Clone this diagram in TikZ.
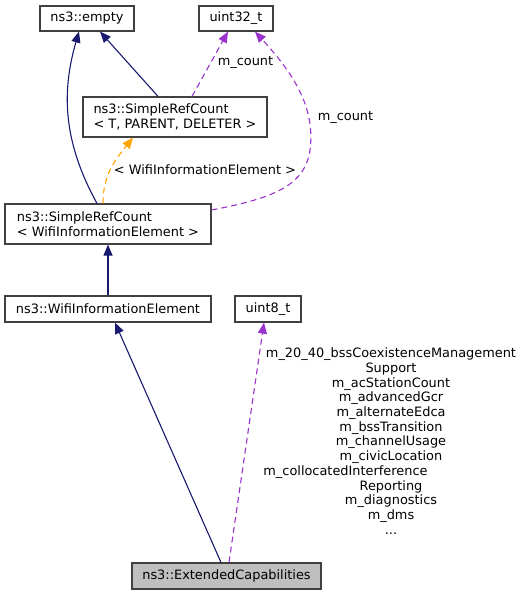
\documentclass[tikz,border=0pt]{standalone}
\usepackage{fontspec}
\setmainfont{DejaVu Sans}
\usetikzlibrary{arrows.meta}
\definecolor{navyedge}{HTML}{191970}
\definecolor{purpleedge}{HTML}{9A32CD}
\definecolor{orangeedge}{HTML}{FFA500}
\definecolor{boxline}{HTML}{404040}
\definecolor{boxgray}{HTML}{BFBFBF}
\begin{document}
\begin{tikzpicture}[x=1pt,y=1pt,
  font=\fontsize{12.9}{14.7}\selectfont,
  cls/.style={draw=boxline,line width=1.2pt,fill=white,inner sep=0pt,align=left},
  inh/.style={draw=navyedge,line width=1.1pt,-{Triangle[length=11pt,width=9pt]}},
  usage/.style={draw=purpleedge,line width=1.1pt,dash pattern=on 6pt off 4pt,-{Triangle[length=11pt,width=9pt,fill=purpleedge]}},
  tmpl/.style={draw=orangeedge,line width=1.1pt,dash pattern=on 6pt off 4pt,-{Triangle[length=11pt,width=9pt,fill=orangeedge]}},
  lbl/.style={inner sep=0pt,align=center}]
\useasboundingbox (0,0) rectangle (528,-595);
% nodes
\node[cls,minimum width=94pt,minimum height=25pt] (empty) at (87,-18.5) {ns3::empty};
\node[cls,minimum width=74pt,minimum height=25pt] (u32) at (236,-18.5) {uint32\_t};
\node[cls,minimum width=184pt,minimum height=40pt] (srcT) at (175,-117) {ns3::SimpleRefCount\\\textless{} T, PARENT, DELETER \textgreater};
\node[cls,minimum width=206pt,minimum height=40pt] (srcW) at (108,-224) {ns3::SimpleRefCount\\\textless{} WifiInformationElement \textgreater};
\node[cls,minimum width=206pt,minimum height=26pt] (wie) at (108,-309) {ns3::WifiInformationElement};
\node[cls,minimum width=66pt,minimum height=26pt] (u8) at (268,-309) {uint8\_t};
\node[cls,fill=boxgray,minimum width=189pt,minimum height=26pt] (ext) at (226.5,-576) {ns3::ExtendedCapabilities};
% edges
\draw[inh] ([xshift=-11pt]srcW.north) .. controls (62,-140) and (62,-90) .. ([xshift=-8pt]empty.south);
\draw[inh] ([xshift=-17pt]srcT.north) -- ([xshift=13pt]empty.south);
\draw[usage] ([xshift=17pt]srcT.north) -- ([xshift=-8pt]u32.south);
\node[lbl] (lcount1) at (245.5,-62) {m\_count};
\draw[usage] ([yshift=14pt]srcW.east) .. controls (275,-198) and (305,-185) .. (310,-150)
   .. controls (316,-105) and (290,-70) .. ([xshift=19pt]u32.south);
\node[lbl] (lcount2) at (345.5,-117) {m\_count};
\draw[tmpl] ([xshift=-5pt]srcW.north) .. controls (103,-175) and (115,-160) .. ([xshift=-42pt]srcT.south);
\node[lbl] (ltmpl) at (205,-170) {\textless{} WifiInformationElement \textgreater};
\draw[inh] (wie.north) -- (srcW.south);
\draw[inh] ([xshift=-5.5pt]ext.north) -- ([xshift=7pt]wie.south);
\draw[usage] ([xshift=2.5pt]ext.north) -- ([xshift=-4pt]u8.south);
\node[lbl] (lmembers) at (391,-441) {m\_20\_40\_bssCoexistenceManagement\\Support\\m\_acStationCount\\m\_advancedGcr\\m\_alternateEdca\\m\_bssTransition\\m\_channelUsage\\m\_civicLocation\\m\_collocatedInterference\hspace{91pt}\mbox{}\\Reporting\\m\_diagnostics\\m\_dms\\...};
\end{tikzpicture}
\end{document}
